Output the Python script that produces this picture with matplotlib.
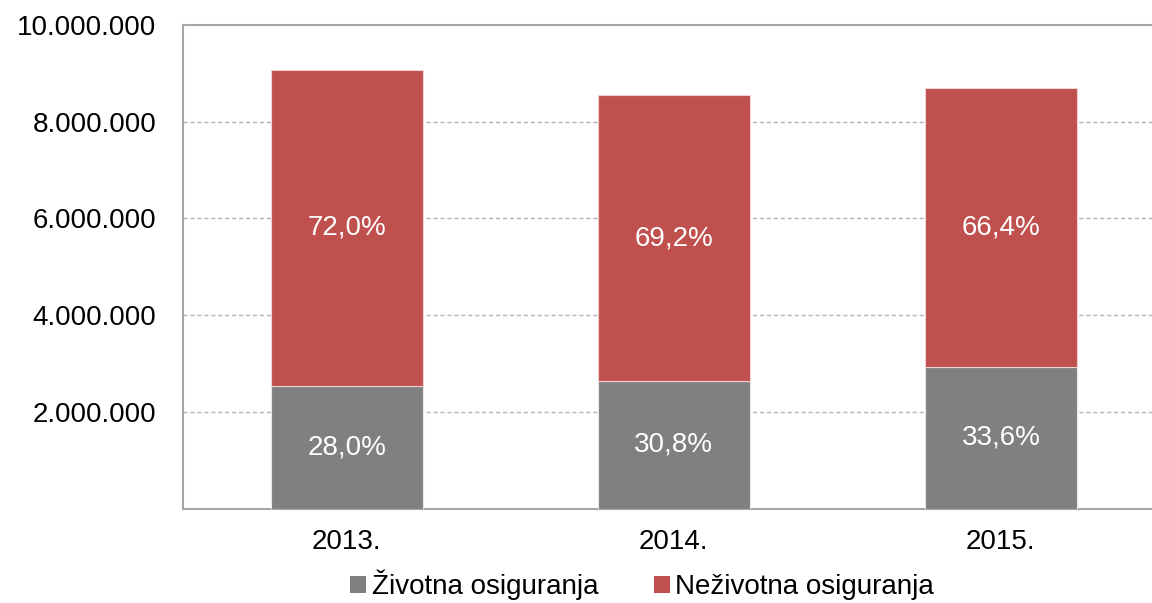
import matplotlib
matplotlib.use("Agg")
import matplotlib.pyplot as plt
from matplotlib.ticker import FuncFormatter
from matplotlib.patches import Patch

years = ["2013.", "2014.", "2015."]
zivotna = [2537000, 2634000, 2924000]
nezivotna = [6529000, 5916000, 5764000]
pct_zivotna = ["28,0%", "30,8%", "33,6%"]
pct_nezivotna = ["72,0%", "69,2%", "66,4%"]
series_names = ["Životna osiguranja", "Neživotna osiguranja"]
yticks = [2000000, 4000000, 6000000, 8000000, 10000000]

c_grey = "#808080"
c_red = "#C0504D"
FS = 20

plt.rcParams['font.family'] = ['Liberation Sans', 'DejaVu Sans']

fig = plt.figure(figsize=(11.52, 6.03), dpi=100)
ax = fig.add_axes([183/1152, 1-508.5/603, 1-183/1152, (508.5-25)/603])

x = list(range(len(years)))
w = 0.465
ax.bar(x, zivotna, width=w, color=c_grey, edgecolor="#e8e8e8", linewidth=0.8, zorder=3)
ax.bar(x, nezivotna, width=w, bottom=zivotna, color=c_red, edgecolor="#f0d0d0", linewidth=0.8, zorder=3)

for i in x:
    ax.text(i, zivotna[i]/2, pct_zivotna[i], ha='center', va='center', color='white', fontsize=FS, zorder=4)
    ax.text(i, zivotna[i] + nezivotna[i]/2, pct_nezivotna[i], ha='center', va='center', color='white', fontsize=FS, zorder=4)

ax.set_xlim(-0.5, 2.462)
ax.set_ylim(0, 10000000)
ax.set_yticks(yticks)
ax.yaxis.set_major_formatter(FuncFormatter(lambda v, p: f"{int(v):,}".replace(",", ".")))
ax.set_xticks(x)
ax.set_xticklabels(years)
ax.tick_params(axis='y', length=0, pad=19, labelsize=FS)
ax.tick_params(axis='x', length=0, pad=15, labelsize=FS)

for yv in yticks[:-1]:
    ax.axhline(yv, color="#b5b5b5", linestyle=(0, (3, 2)), linewidth=1, zorder=1)

for s in ['left', 'bottom', 'top']:
    ax.spines[s].set_color("#a6a6a6")
    ax.spines[s].set_linewidth(1.5)
ax.spines['right'].set_visible(False)

handles = [Patch(facecolor=c_grey, edgecolor='none'), Patch(facecolor=c_red, edgecolor='none')]
fig.legend(handles, series_names, loc='center', bbox_to_anchor=(642/1152, 1-585/603), ncol=2,
           frameon=False, fontsize=FS, handlelength=0.58, handleheight=0.58,
           handletextpad=0.2, columnspacing=2.0, borderpad=0)

fig.savefig("out.png", dpi=100)
